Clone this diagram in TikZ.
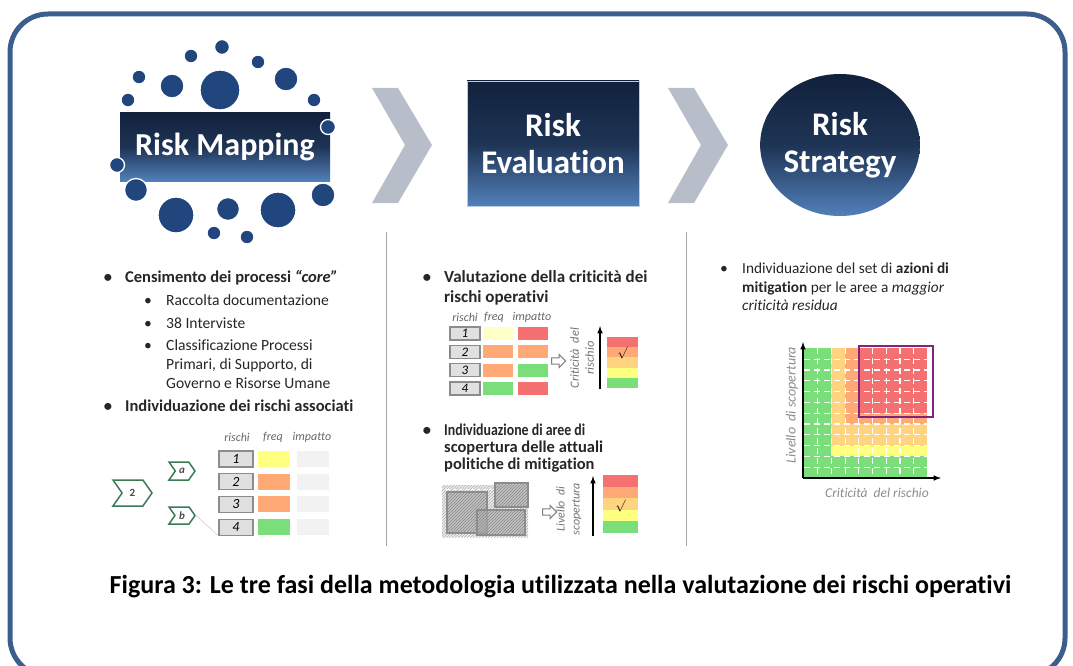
\documentclass[tikz,border=0pt]{standalone}
\usepackage{fontspec}
\setmainfont{Carlito}[Ligatures=NoCommon]
\usetikzlibrary{patterns,shapes.arrows,shapes.symbols,shapes.geometric}

\definecolor{frameblue}{RGB}{59,94,140}
\definecolor{dotblue}{RGB}{33,70,126}
\definecolor{navytop}{RGB}{17,33,60}
\definecolor{navybot}{RGB}{82,128,186}
\definecolor{chevgray}{RGB}{184,189,202}
\definecolor{taggreen}{RGB}{58,122,85}
\definecolor{cgreen}{RGB}{122,222,122}
\definecolor{cyellow}{RGB}{255,255,128}
\definecolor{clyellow}{RGB}{255,255,200}
\definecolor{clorange}{RGB}{255,212,128}
\definecolor{corange}{RGB}{255,170,118}
\definecolor{cred}{RGB}{245,112,112}
\definecolor{cpale}{RGB}{242,242,242}
\definecolor{cpurple}{RGB}{128,36,128}

\tikzset{
  phase/.style={text=white, align=center, top color=navytop, bottom color=navybot,
    middle color=navytop!80!navybot, font=\fontsize{33}{37}\selectfont\bfseries},
  bul/.style={anchor=base west, inner sep=0, text=black!85, font=\fontsize{16.5}{19}\selectfont\bfseries},
  sub/.style={anchor=base west, inner sep=0, text=black!85, font=\fontsize{15.6}{18}\selectfont},
  hdr/.style={text=black!60, font=\fontsize{12}{14}\selectfont\itshape},
  numbox/.style={draw=black!45, fill=black!12, line width=1.2, inner sep=0,
    minimum width=34, minimum height=16, font=\fontsize{14}{14}\selectfont\itshape},
  cell/.style={inner sep=0, minimum width=32, minimum height=16},
  tag/.style={signal, signal to=east, signal from=west, signal pointer angle=110,
    draw=taggreen, line width=1.5, fill=white, inner sep=0, text=black!70,
    font=\fontsize{11}{11}\selectfont\bfseries},
  harrow/.style={single arrow, draw=black!50, fill=white, line width=1,
    minimum height=14, inner sep=2.7, single arrow head extend=3.2},
  rlab/.style={rotate=90, align=center, text=black!55, font=\fontsize{12.5}{15}\selectfont\itshape}
}

\begin{document}
\begin{tikzpicture}[x=1pt,y=-1pt]
	\useasboundingbox (0,0) rectangle (1073,666);
	\draw [frameblue, line width=5, rounded corners=38] (10,14) rectangle (1065,676);

	\node [phase, rectangle, minimum width=210, minimum height=68, font=\fontsize{32}{37}\selectfont\bfseries] (rm) at (225,147) {Risk Mapping};
	\foreach \x/\y/\r in {222/47/7.5, 191/56/7, 258/62/7, 139/77/7, 172/86/12, 220/90/20, 286/79/12, 128/100/7, 314/100/7, 328/127/7.5, 117/165/7.5, 136/190/11.5, 176/215/18, 228/209/11.5, 278/210/18, 323/195/12, 214/233/7, 247/237/7}
		\fill [dotblue, draw=white, line width=1.3] (\x,\y) circle [radius=\r];

	\fill [chevgray] (372,88) -- (398,88) -- (432,145) -- (398,203) -- (372,203) -- (405,145) -- cycle;
	\fill [chevgray] (668,88) -- (694,88) -- (728,145) -- (694,203) -- (668,203) -- (701,145) -- cycle;

	\node [phase, rectangle, minimum width=172, minimum height=125, draw=navybot!40] (re) at (553,143.5) {Risk\\Evaluation};
	\node [phase, ellipse, minimum width=156, minimum height=142, inner sep=0] (rs) at (840,145) {Risk\\Strategy};

	\draw [black!35, line width=1] (386,232) -- (386,546);
	\draw [black!35, line width=1] (686,232) -- (686,546);

	% risk mapping
	\node [bul, anchor=base] at (108,282) {\textbullet};
	\node [bul] (cens) at (125,282) {Censimento dei processi \textit{“core”}};
	\foreach \y in {305, 328, 350}
		\node [sub, anchor=base] at (148,\y) {\textbullet};
	\foreach \t/\y in {Raccolta documentazione/305, 38 Interviste/328, Classificazione Processi/350, {Primari, di Supporto, di}/369, Governo e Risorse Umane/388}
		\node [sub] (s\y) at (166,\y) {\t};
	\node [bul, anchor=base] at (108,411) {\textbullet};
	\node [bul] (indiv) at (125,411) {Individuazione dei rischi associati};

	\foreach \t/\x in {rischi/237, freq/273, impatto/312}
		\node [hdr] (h\t) at (\x,437) {\t};
	\foreach \i/\y/\f in {1/459/cyellow, 2/481.7/corange, 3/504.4/corange, 4/527.1/cgreen} {
		\node [numbox] (n\i) at (236,\y) {\i};
		\node [cell, fill=\f] (f\i) at (274,\y) {};
		\node [cell, fill=cpale] (p\i) at (313,\y) {};
	}
	\node [tag, minimum width=39, minimum height=26] (t2) at (132.5,493) {2};
	\node [tag, minimum width=26, minimum height=18, font=\fontsize{11}{11}\selectfont\bfseries\itshape] (ta) at (182,471) {a};
	\node [tag, minimum width=26, minimum height=17, font=\fontsize{11}{11}\selectfont\bfseries\itshape] (tb) at (182,515.5) {b};
	\draw [black!25] (tb.east) -- (n4.south west);

	% risk evaluation
	\node [bul, anchor=base] at (427,282) {\textbullet};
	\node [bul, font=\fontsize{17}{19}\selectfont\bfseries] (val1) at (444,282) {Valutazione della criticità dei};
	\node [bul, font=\fontsize{17}{19}\selectfont\bfseries] (val2) at (444,302) {rischi operativi};
	\foreach \t/\x in {rischi/465, freq/494, impatto/532}
		\node [hdr] (k\t) at (\x,317) {\t};
	\foreach \i/\y/\f/\p in {1/333.5/clyellow/cred, 2/351.8/corange/corange, 3/370.1/corange/cgreen, 4/388.4/cgreen/cred} {
		\node [numbox, minimum width=30, minimum height=13, font=\fontsize{13}{13}\selectfont\itshape] (m\i) at (465,\y) {\i};
		\node [cell, minimum width=30, minimum height=13, fill=\f] (g\i) at (498,\y) {};
		\node [cell, minimum width=30, minimum height=13, fill=\p] (q\i) at (533,\y) {};
	}
	\node [harrow] (ha1) at (557,361) {};
	\node [rlab] (crit) at (582,358) {Criticità\ \ del\\rischio};
	\coordinate (ua1) at (600,389);
	\coordinate (ua2) at (600,326);
	\draw [line width=1.5, -latex] (ua1) -- (ua2);
	\foreach \c [count=\k from 0] in {cred, corange, clorange, cyellow, cgreen}
		\fill [\c] (607,{337+10.2*\k}) rectangle (638,{347.2+10.2*\k});
	\node [font=\fontsize{13}{13}\selectfont] (ck1) at (622.5,353) {$\surd$};

	\node [bul, anchor=base] at (427,435) {\textbullet};
	\node [bul] (v435) at (444,435) {\scalebox{0.84}[1]{Individuazione di aree di}};
	\foreach \t/\y in {scopertura delle attuali/452, politiche di mitigation/469}
		\node [bul] (v\y) at (444,\y) {\t};
	\fill [black!8] (442,485) rectangle (528,537);
	\fill [pattern=north east lines, pattern color=black!30] (442,485) rectangle (528,537);
	\draw [white, dashed, line width=1] (446,489) rectangle (524,533);
	\foreach \a/\b/\c/\d in {447/492/487/533, 495/483/528/507, 477/510/525/535} {
		\draw [black!45, fill=black!30, fill opacity=0.7, line width=1.2] (\a,\b) rectangle (\c,\d);
		\fill [pattern=north east lines, pattern color=black!45] (\a,\b) rectangle (\c,\d);
	}
	\node [harrow] (ha2) at (548,512) {};
	\node [rlab, font=\fontsize{12}{15}\selectfont\itshape] (liv) at (569,509) {Livello\ \ di\\scopertura};
	\coordinate (ub1) at (593,536);
	\coordinate (ub2) at (593,476);
	\draw [line width=1.5, -latex] (ub1) -- (ub2);
	\foreach \c [count=\k from 0] in {cred, corange, clorange, cyellow, cgreen}
		\fill [\c] (603,{475+11.6*\k}) rectangle (638,{486.6+11.6*\k});
	\node [font=\fontsize{13}{13}\selectfont] (ck2) at (620.5,506) {$\surd$};

	% risk strategy
	\node [sub, anchor=base] at (724,273) {\textbullet};
	\node [sub, font=\fontsize{15.3}{18}\selectfont] (st1) at (742,273) {Individuazione del set di \textbf{azioni di}};
	\node [sub, font=\fontsize{15.3}{18}\selectfont] (st2) at (742,292) {\textbf{mitigation} per le aree a \textit{maggior}};
	\node [sub, font=\fontsize{15.3}{18}\selectfont] (st3) at (742,310) {\textit{criticità residua}};

	\fill [cred] (804,348) rectangle (927.3,478);
	\fill [corange] (804,348) rectangle (858.8,478);
	\fill [corange] (804,413.2) rectangle (927.3,478);
	\fill [clorange] (804,348) rectangle (845.1,478);
	\fill [clorange] (804,424) rectangle (927.3,478);
	\fill [cyellow] (804,445.6) rectangle (927.3,478);
	\fill [cgreen] (804,348) rectangle (831.4,478);
	\fill [cgreen] (804,456.4) rectangle (927.3,478);
	\foreach \i in {1,...,8}
		\draw [white, line width=1.2, dash pattern=on 6pt off 4pt] ({804+13.7*\i},348) -- ({804+13.7*\i},478);
	\foreach \j in {1,...,11}
		\draw [white, line width=1.2, dash pattern=on 6pt off 4pt] (804,{478-10.8*\j}) -- (927.3,{478-10.8*\j});
	\draw [cpurple, line width=1.5] (859,346) rectangle (933,417);
	\coordinate (o) at (803,478);
	\coordinate (ytop) at (803,342);
	\coordinate (xend) at (941,478);
	\draw [line width=1.5, -latex] (o) -- (ytop);
	\draw [line width=1.5, -latex] (o) -- (xend);
	\node [rlab, text=black!45, font=\fontsize{14}{16}\selectfont\itshape] (ylab) at (792,405) {Livello\ \ di scopertura};
	\node [hdr, text=black!45, font=\fontsize{13.5}{15}\selectfont\itshape] (xlab) at (877,493) {Criticità\ \ del rischio};

	\node [font=\fontsize{26}{30}\selectfont\bfseries] (cap) at (560.5,587) {Figura 3: Le tre fasi della metodologia utilizzata nella valutazione dei rischi operativi};
\end{tikzpicture}
\end{document}
